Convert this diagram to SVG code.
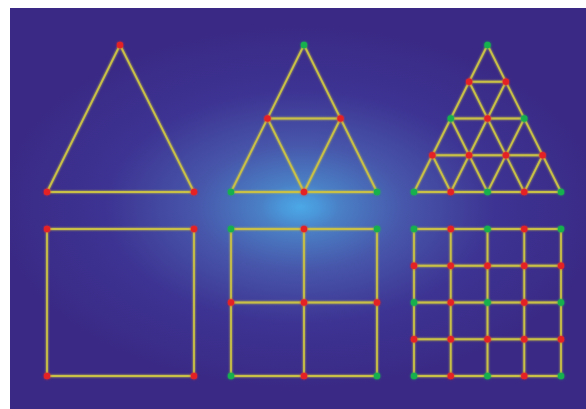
<svg xmlns="http://www.w3.org/2000/svg" width="586" height="409" viewBox="0 0 586 409">
<defs>
<radialGradient id="bg" gradientUnits="userSpaceOnUse" cx="300" cy="207" r="300" gradientTransform="translate(300 207) scale(1 0.6) translate(-300 -207)">
<stop offset="0" stop-color="#4ca8e6"/>
<stop offset="0.06" stop-color="#4a98da"/>
<stop offset="0.13" stop-color="#4a80c6"/>
<stop offset="0.35" stop-color="#4756aa"/>
<stop offset="0.65" stop-color="#3d3392"/>
<stop offset="1" stop-color="#3a2a86"/>
</radialGradient>
<filter id="glow" x="-10%" y="-10%" width="120%" height="120%">
<feGaussianBlur in="SourceGraphic" stdDeviation="0.9" result="b"/>
<feMerge><feMergeNode in="b"/><feMergeNode in="SourceGraphic"/></feMerge>
</filter>
<filter id="dglow" x="-100%" y="-100%" width="300%" height="300%">
<feGaussianBlur in="SourceGraphic" stdDeviation="0.9" result="b"/>
<feMerge><feMergeNode in="b"/><feMergeNode in="SourceGraphic"/></feMerge>
</filter>
</defs>
<style>
.c line{stroke:#c8c046;stroke-width:1.8;stroke-linecap:round}
.r{fill:#e42428}
.g{fill:#14b050}
</style>
<rect x="10" y="8" width="576" height="401" fill="url(#bg)"/>
<g id="connectors" class="c" filter="url(#glow)">
<line x1="120" y1="45" x2="47" y2="192"/>
<line x1="120" y1="45" x2="194" y2="192"/>
<line x1="47" y1="192" x2="194" y2="192"/>
<line x1="304" y1="45" x2="231" y2="192"/>
<line x1="304" y1="45" x2="377" y2="192"/>
<line x1="231" y1="192" x2="377" y2="192"/>
<line x1="267.5" y1="118.5" x2="340.5" y2="118.5"/>
<line x1="267.5" y1="118.5" x2="304" y2="192"/>
<line x1="340.5" y1="118.5" x2="304" y2="192"/>
<line x1="487.5" y1="45" x2="414" y2="192"/>
<line x1="487.5" y1="45" x2="561" y2="192"/>
<line x1="469.125" y1="81.75" x2="505.875" y2="81.75"/>
<line x1="450.75" y1="118.5" x2="524.25" y2="118.5"/>
<line x1="432.375" y1="155.25" x2="542.625" y2="155.25"/>
<line x1="414" y1="192" x2="561" y2="192"/>
<line x1="450.75" y1="192" x2="505.875" y2="81.75"/>
<line x1="487.5" y1="192" x2="524.25" y2="118.5"/>
<line x1="524.25" y1="192" x2="542.625" y2="155.25"/>
<line x1="450.75" y1="192" x2="432.375" y2="155.25"/>
<line x1="487.5" y1="192" x2="450.75" y2="118.5"/>
<line x1="524.25" y1="192" x2="469.125" y2="81.75"/>
<line x1="47" y1="229" x2="194" y2="229"/>
<line x1="47" y1="376" x2="194" y2="376"/>
<line x1="47" y1="229" x2="47" y2="376"/>
<line x1="194" y1="229" x2="194" y2="376"/>
<line x1="231" y1="229" x2="377" y2="229"/>
<line x1="231" y1="302.5" x2="377" y2="302.5"/>
<line x1="231" y1="376" x2="377" y2="376"/>
<line x1="231" y1="229" x2="231" y2="376"/>
<line x1="304" y1="229" x2="304" y2="376"/>
<line x1="377" y1="229" x2="377" y2="376"/>
<line x1="414" y1="229" x2="561" y2="229"/>
<line x1="414" y1="265.75" x2="561" y2="265.75"/>
<line x1="414" y1="302.5" x2="561" y2="302.5"/>
<line x1="414" y1="339.25" x2="561" y2="339.25"/>
<line x1="414" y1="376" x2="561" y2="376"/>
<line x1="414" y1="229" x2="414" y2="376"/>
<line x1="450.75" y1="229" x2="450.75" y2="376"/>
<line x1="487.5" y1="229" x2="487.5" y2="376"/>
<line x1="524.25" y1="229" x2="524.25" y2="376"/>
<line x1="561" y1="229" x2="561" y2="376"/>
</g>
<g class="n" filter="url(#dglow)">
<g id="t1-a"><circle class="r" cx="120" cy="45" r="3.2"/></g>
<g id="t1-b"><circle class="r" cx="47" cy="192" r="3.2"/></g>
<g id="t1-c"><circle class="r" cx="194" cy="192" r="3.2"/></g>
<g id="t2-a"><circle class="g" cx="304" cy="45" r="3.2"/></g>
<g id="t2-m1"><circle class="r" cx="267.5" cy="118.5" r="3.2"/></g>
<g id="t2-m2"><circle class="r" cx="340.5" cy="118.5" r="3.2"/></g>
<g id="t2-b"><circle class="g" cx="231" cy="192" r="3.2"/></g>
<g id="t2-m3"><circle class="r" cx="304" cy="192" r="3.2"/></g>
<g id="t2-c"><circle class="g" cx="377" cy="192" r="3.2"/></g>
<g id="t3-0-0"><circle class="g" cx="487.5" cy="45" r="3.2"/></g>
<g id="t3-1-0"><circle class="r" cx="469.125" cy="81.75" r="3.2"/></g>
<g id="t3-1-1"><circle class="r" cx="505.875" cy="81.75" r="3.2"/></g>
<g id="t3-2-0"><circle class="g" cx="450.75" cy="118.5" r="3.2"/></g>
<g id="t3-2-1"><circle class="r" cx="487.5" cy="118.5" r="3.2"/></g>
<g id="t3-2-2"><circle class="g" cx="524.25" cy="118.5" r="3.2"/></g>
<g id="t3-3-0"><circle class="r" cx="432.375" cy="155.25" r="3.2"/></g>
<g id="t3-3-1"><circle class="r" cx="469.125" cy="155.25" r="3.2"/></g>
<g id="t3-3-2"><circle class="r" cx="505.875" cy="155.25" r="3.2"/></g>
<g id="t3-3-3"><circle class="r" cx="542.625" cy="155.25" r="3.2"/></g>
<g id="t3-4-0"><circle class="g" cx="414" cy="192" r="3.2"/></g>
<g id="t3-4-1"><circle class="r" cx="450.75" cy="192" r="3.2"/></g>
<g id="t3-4-2"><circle class="g" cx="487.5" cy="192" r="3.2"/></g>
<g id="t3-4-3"><circle class="r" cx="524.25" cy="192" r="3.2"/></g>
<g id="t3-4-4"><circle class="g" cx="561" cy="192" r="3.2"/></g>
<g id="s1-tl"><circle class="r" cx="47" cy="229" r="3.2"/></g>
<g id="s1-tr"><circle class="r" cx="194" cy="229" r="3.2"/></g>
<g id="s1-bl"><circle class="r" cx="47" cy="376" r="3.2"/></g>
<g id="s1-br"><circle class="r" cx="194" cy="376" r="3.2"/></g>
<g id="s2-0-0"><circle class="g" cx="231" cy="229" r="3.2"/></g>
<g id="s2-0-1"><circle class="r" cx="304" cy="229" r="3.2"/></g>
<g id="s2-0-2"><circle class="g" cx="377" cy="229" r="3.2"/></g>
<g id="s2-1-0"><circle class="r" cx="231" cy="302.5" r="3.2"/></g>
<g id="s2-1-1"><circle class="r" cx="304" cy="302.5" r="3.2"/></g>
<g id="s2-1-2"><circle class="r" cx="377" cy="302.5" r="3.2"/></g>
<g id="s2-2-0"><circle class="g" cx="231" cy="376" r="3.2"/></g>
<g id="s2-2-1"><circle class="r" cx="304" cy="376" r="3.2"/></g>
<g id="s2-2-2"><circle class="g" cx="377" cy="376" r="3.2"/></g>
<g id="s3-0-0"><circle class="g" cx="414" cy="229" r="3.2"/></g>
<g id="s3-0-1"><circle class="r" cx="450.75" cy="229" r="3.2"/></g>
<g id="s3-0-2"><circle class="g" cx="487.5" cy="229" r="3.2"/></g>
<g id="s3-0-3"><circle class="r" cx="524.25" cy="229" r="3.2"/></g>
<g id="s3-0-4"><circle class="g" cx="561" cy="229" r="3.2"/></g>
<g id="s3-1-0"><circle class="r" cx="414" cy="265.75" r="3.2"/></g>
<g id="s3-1-1"><circle class="r" cx="450.75" cy="265.75" r="3.2"/></g>
<g id="s3-1-2"><circle class="r" cx="487.5" cy="265.75" r="3.2"/></g>
<g id="s3-1-3"><circle class="r" cx="524.25" cy="265.75" r="3.2"/></g>
<g id="s3-1-4"><circle class="r" cx="561" cy="265.75" r="3.2"/></g>
<g id="s3-2-0"><circle class="g" cx="414" cy="302.5" r="3.2"/></g>
<g id="s3-2-1"><circle class="r" cx="450.75" cy="302.5" r="3.2"/></g>
<g id="s3-2-2"><circle class="g" cx="487.5" cy="302.5" r="3.2"/></g>
<g id="s3-2-3"><circle class="r" cx="524.25" cy="302.5" r="3.2"/></g>
<g id="s3-2-4"><circle class="g" cx="561" cy="302.5" r="3.2"/></g>
<g id="s3-3-0"><circle class="r" cx="414" cy="339.25" r="3.2"/></g>
<g id="s3-3-1"><circle class="r" cx="450.75" cy="339.25" r="3.2"/></g>
<g id="s3-3-2"><circle class="r" cx="487.5" cy="339.25" r="3.2"/></g>
<g id="s3-3-3"><circle class="r" cx="524.25" cy="339.25" r="3.2"/></g>
<g id="s3-3-4"><circle class="r" cx="561" cy="339.25" r="3.2"/></g>
<g id="s3-4-0"><circle class="g" cx="414" cy="376" r="3.2"/></g>
<g id="s3-4-1"><circle class="r" cx="450.75" cy="376" r="3.2"/></g>
<g id="s3-4-2"><circle class="g" cx="487.5" cy="376" r="3.2"/></g>
<g id="s3-4-3"><circle class="r" cx="524.25" cy="376" r="3.2"/></g>
<g id="s3-4-4"><circle class="g" cx="561" cy="376" r="3.2"/></g>
</g>
</svg>
